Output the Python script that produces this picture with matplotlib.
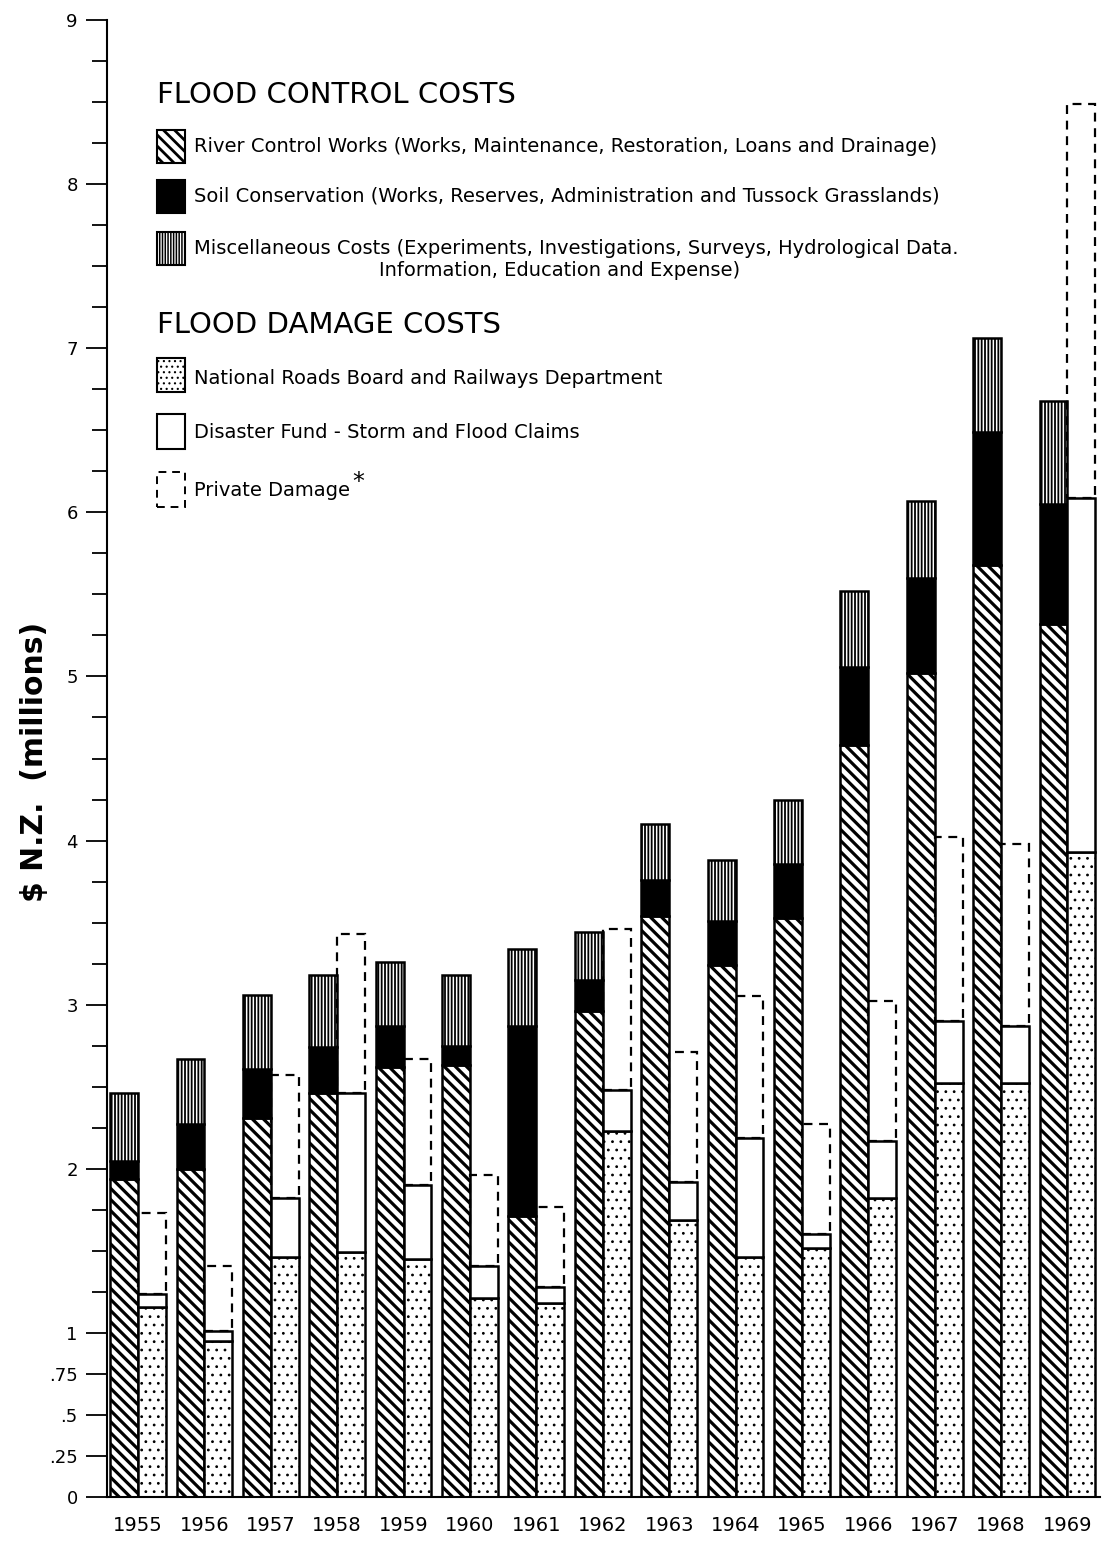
import matplotlib
matplotlib.use("Agg")
import matplotlib.pyplot as plt
from matplotlib.patches import Rectangle
import numpy as np

years = ["1955", "1956", "1957", "1958", "1959", "1960", "1961", "1962",
         "1963", "1964", "1965", "1966", "1967", "1968", "1969"]

# flood control costs ($NZ millions)
river = [1.94, 2.00, 2.31, 2.46, 2.62, 2.63, 1.71, 2.96, 3.54, 3.24, 3.53, 4.58, 5.02, 5.68, 5.32]
soil = [0.11, 0.27, 0.30, 0.28, 0.25, 0.12, 1.16, 0.19, 0.22, 0.27, 0.33, 0.48, 0.58, 0.81, 0.73]
misc = [0.41, 0.40, 0.45, 0.44, 0.39, 0.43, 0.47, 0.29, 0.34, 0.37, 0.39, 0.46, 0.47, 0.57, 0.63]

# flood damage costs ($NZ millions)
roads = [1.16, 0.95, 1.46, 1.49, 1.45, 1.21, 1.18, 2.23, 1.69, 1.46, 1.52, 1.82, 2.52, 2.52, 3.93]
disaster = [0.08, 0.06, 0.36, 0.97, 0.45, 0.20, 0.10, 0.25, 0.23, 0.73, 0.08, 0.35, 0.38, 0.35, 2.16]
private = [0.49, 0.40, 0.75, 0.97, 0.77, 0.55, 0.49, 0.98, 0.79, 0.86, 0.67, 0.85, 1.12, 1.11, 2.40]

ytick_vals = [0, 0.25, 0.5, 0.75, 1, 2, 3, 4, 5, 6, 7, 8, 9]
ytick_labels = ["0", ".25", ".5", ".75", "1", "2", "3", "4", "5", "6", "7", "8", "9"]

plt.rcParams['font.family'] = ['DejaVu Sans']

W, H = 1104, 1541
fig = plt.figure(figsize=(W / 100, H / 100), dpi=100)
ax = fig.add_axes([107 / W, 44 / H, (1100 - 107) / W, (1521 - 44) / H])

x = np.arange(len(years))
bw = 0.42
xl = x - bw / 2
xr = x + bw / 2

river = np.array(river)
soil = np.array(soil)
misc = np.array(misc)
roads = np.array(roads)
disaster = np.array(disaster)
private = np.array(private)

with plt.rc_context({'hatch.linewidth': 2.3}):
    ax.bar(xl, river, bw, color='white', edgecolor='black', hatch='\\\\\\', linewidth=1.8)
ax.bar(xl, soil, bw, bottom=river, color='black', edgecolor='black', linewidth=1.8)
with plt.rc_context({'hatch.linewidth': 1.3}):
    ax.bar(xl, misc, bw, bottom=river + soil, color='white', edgecolor='black',
           hatch='|||||', linewidth=1.8)
with plt.rc_context({'hatch.linewidth': 0.8}):
    ax.bar(xr, roads, bw, color='white', edgecolor='black', hatch='..', linewidth=1.8)
ax.bar(xr, disaster, bw, bottom=roads, color='white', edgecolor='black', linewidth=1.8)
ax.bar(xr, private, bw, bottom=roads + disaster, fill=False, edgecolor='black',
       linewidth=1.6, linestyle=(0, (4, 3)))

ax.set_xlim(-0.467, 14.49)
ax.set_ylim(0, 9)
ax.set_xticks(x)
ax.set_xticklabels(years, fontsize=14)
ax.tick_params(axis='x', length=0, pad=14)
ax.set_yticks(ytick_vals)
ax.set_yticklabels(ytick_labels, fontsize=13)
ax.set_yticks([v for v in np.arange(1, 9, 0.25) if v % 1 != 0], minor=True)
ax.tick_params(axis='y', which='major', length=15, width=1.3, pad=6)
ax.tick_params(axis='y', which='minor', length=11, width=1.3)
for s in ['top', 'right']:
    ax.spines[s].set_visible(False)
ax.spines['left'].set_linewidth(1.5)
ax.spines['bottom'].set_linewidth(1.5)

fig.text(35 / W, 1 - 762 / H, "$ N.Z.  (millions)", rotation=90, fontsize=21.5,
         fontweight='bold', ha='center', va='center')


def fx(px):
    return px / W


def fy(py):
    return 1 - py / H


def legend_box(y0, y1, **kw):
    rect = Rectangle((fx(157), fy(y1)), fx(185) - fx(157), fy(y0) - fy(y1),
                     transform=fig.transFigure, **kw)
    fig.patches.append(rect)


fig.text(fx(157), fy(95), "FLOOD CONTROL COSTS", fontsize=21, va='center', ha='left')

with plt.rc_context({'hatch.linewidth': 2.0}):
    legend_box(130, 163, facecolor='white', edgecolor='black', hatch='\\\\\\', linewidth=1.5)
fig.text(fx(194), fy(146), "River Control Works (Works, Maintenance, Restoration, Loans and Drainage)",
         fontsize=14, va='center')

legend_box(180, 213, facecolor='black', edgecolor='black', linewidth=1.5)
fig.text(fx(194), fy(196), "Soil Conservation (Works, Reserves, Administration and Tussock Grasslands)",
         fontsize=14, va='center')

with plt.rc_context({'hatch.linewidth': 1.1}):
    legend_box(232, 265, facecolor='white', edgecolor='black', hatch='||||||', linewidth=1.5)
fig.text(fx(194), fy(248), "Miscellaneous Costs (Experiments, Investigations, Surveys, Hydrological Data.",
         fontsize=14, va='center')
fig.text(fx(560), fy(271), "Information, Education and Expense)", fontsize=14, va='center', ha='center')

fig.text(fx(157), fy(325), "FLOOD DAMAGE COSTS", fontsize=21, va='center', ha='left')

with plt.rc_context({'hatch.linewidth': 0.8}):
    legend_box(358, 392, facecolor='white', edgecolor='black', hatch='...', linewidth=1.5)
fig.text(fx(194), fy(378), "National Roads Board and Railways Department", fontsize=14, va='center')

legend_box(414, 449, facecolor='white', edgecolor='black', linewidth=1.5)
fig.text(fx(194), fy(432), "Disaster Fund - Storm and Flood Claims", fontsize=14, va='center')

legend_box(472, 507, fill=False, edgecolor='black', linewidth=1.4, linestyle=(0, (4, 3)))
fig.text(fx(194), fy(491), "Private Damage", fontsize=14, va='center')
fig.text(fx(352), fy(482), "*", fontsize=17, va='center')

fig.savefig("out.png", dpi=100)
